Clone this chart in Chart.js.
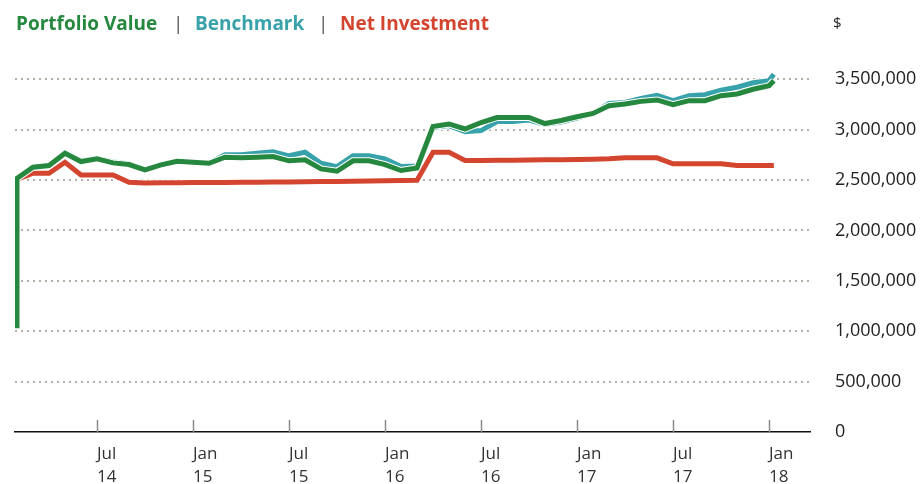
<!DOCTYPE html>
<html>
<head>
<meta charset="utf-8">
<script src="https://cdn.jsdelivr.net/npm/chart.js@4.4.0/dist/chart.umd.min.js"></script>
<style>
  body { margin: 0; background: #fff; font-family: 'Open Sans', sans-serif; }
  #wrap { position: relative; width: 923px; height: 484px; }
  #chart { position: absolute; left: 0; top: 0; }
  .lg { position: absolute; top: 10px; font-size: 19px; font-weight: 700; line-height: 26px; white-space: nowrap; }
  .sep { color: #555; font-weight: 400; }
  #unit { position: absolute; left: 833px; top: 11px; font-size: 15px; color: #222; line-height: 23px; }
</style>
</head>
<body>
<div id="wrap">
  <canvas id="chart" width="923" height="484"></canvas>
  <span class="lg" style="left:16px;color:#26883e">Portfolio Value</span>
  <span class="lg sep" style="left:173px">|</span>
  <span class="lg" style="left:195px;color:#38a2aa">Benchmark</span>
  <span class="lg sep" style="left:318px">|</span>
  <span class="lg" style="left:340px;color:#d4452f">Net Investment</span>
  <span id="unit">$</span>
</div>
<script>
// months counted from Jan 2014 (0 = Jan 1, 2014)
const months = [1, 2, 3, 4, 5, 6, 7, 8, 9, 10, 11, 12, 13, 14, 15, 16, 17, 18, 19, 20, 21, 22, 23, 24,
  25, 26, 27, 28, 29, 30, 31, 32, 33, 34, 35, 36, 37, 38, 39, 40, 41, 42, 43, 44, 45, 46, 47, 48, 48.3];

const portfolioStart = 1030000;
const portfolio = [2515000, 2627000, 2643000, 2765000, 2683000, 2710000, 2670000, 2653000, 2600000, 2650000,
  2686000, 2676000, 2666000, 2726000, 2720000, 2726000, 2732000, 2690000, 2700000, 2610000,
  2587000, 2690000, 2690000, 2653000, 2594000, 2620000, 3030000, 3056000, 3006000, 3070000,
  3120000, 3120000, 3120000, 3060000, 3090000, 3128000, 3160000, 3237000, 3254000, 3280000,
  3294000, 3247000, 3287000, 3287000, 3336000, 3353000, 3400000, 3435000, 3485000];

const benchmark = [2515000, 2635000, 2645000, 2770000, 2690000, 2715000, 2680000, 2660000, 2605000, 2652000,
  2688000, 2678000, 2668000, 2750000, 2750000, 2765000, 2780000, 2740000, 2776000, 2666000,
  2633000, 2740000, 2740000, 2710000, 2633000, 2640000, 3020000, 3040000, 2980000, 2990000,
  3080000, 3080000, 3095000, 3050000, 3075000, 3115000, 3160000, 3260000, 3270000, 3310000,
  3340000, 3287000, 3336000, 3346000, 3390000, 3420000, 3465000, 3485000, 3550000];

const netInvestment = [2505000, 2567000, 2567000, 2676000, 2550000, 2550000, 2550000, 2478000, 2470000, 2472000,
  2473000, 2474000, 2475000, 2476000, 2477000, 2478000, 2479000, 2480000, 2482000, 2484000,
  2486000, 2488000, 2490000, 2492000, 2495000, 2497000, 2775000, 2775000, 2693000, 2694000,
  2695000, 2696000, 2698000, 2700000, 2702000, 2704000, 2706000, 2710000, 2720000, 2720000,
  2720000, 2660000, 2660000, 2660000, 2660000, 2643000, 2643000, 2643000, 2643000];

const tickMonths = [6, 12, 18, 24, 30, 36, 42, 48];
const tickLabels = [['Jul', '14'], ['Jan', '15'], ['Jul', '15'], ['Jan', '16'],
  ['Jul', '16'], ['Jan', '17'], ['Jul', '17'], ['Jan', '18']];
const yTicks = [0, 500000, 1000000, 1500000, 2000000, 2500000, 3000000, 3500000];

const toPoints = (vals) => vals.map((v, i) => ({ x: months[i], y: v }));
const portfolioPts = [{ x: months[0], y: portfolioStart }].concat(toPoints(portfolio));

function line(data, color, width, order) {
  return {
    data: data,
    borderColor: color,
    borderWidth: width,
    pointRadius: 0,
    tension: 0,
    fill: false,
    borderJoinStyle: 'miter',
    order: order
  };
}

const xTickMarks = {
  id: 'xTickMarks',
  beforeDatasetsDraw(chart) {
    const { ctx, scales: { x }, chartArea } = chart;
    ctx.save();
    ctx.strokeStyle = '#888';
    ctx.lineWidth = 1.5;
    tickMonths.forEach(m => {
      const px = Math.round(x.getPixelForValue(m)) + 0.5;
      ctx.beginPath();
      ctx.moveTo(px, chartArea.bottom - 12);
      ctx.lineTo(px, chartArea.bottom);
      ctx.stroke();
    });
    ctx.restore();
  }
};

new Chart(document.getElementById('chart'), {
  type: 'line',
  data: {
    datasets: [
      line(toPoints(netInvestment), '#ffffff', 7, 6),
      line(toPoints(netInvestment), '#d4452f', 5, 5),
      line(toPoints(benchmark), '#ffffff', 7, 4),
      line(toPoints(benchmark), '#38a2aa', 5, 3),
      line(portfolioPts, '#ffffff', 7, 2),
      line(portfolioPts, '#26883e', 5, 1)
    ]
  },
  options: {
    responsive: false,
    animation: false,
    layout: { padding: { left: 15, top: 54, right: 0, bottom: 0 } },
    plugins: { legend: { display: false }, tooltip: { enabled: false } },
    scales: {
      x: {
        type: 'linear',
        min: 0.875,
        max: 50.56,
        afterBuildTicks: (scale) => { scale.ticks = tickMonths.map(v => ({ value: v })); },
        afterFit: (scale) => { scale.height = 52; },
        grid: { display: false, drawTicks: false },
        border: { display: true, color: '#111', width: 1.5 },
        ticks: {
          autoSkip: false,
          maxRotation: 0,
          align: 'start',
          padding: 10,
          color: '#333',
          font: { family: 'Open Sans', size: 17, lineHeight: 1.38 },
          callback: (v) => tickLabels[tickMonths.indexOf(v)]
        }
      },
      y: {
        position: 'right',
        min: 0,
        max: 3750000,
        afterBuildTicks: (scale) => { scale.ticks = yTicks.map(v => ({ value: v })); },
        afterFit: (scale) => { scale.width = 113; },
        grid: {
          drawTicks: false,
          lineWidth: 2,
          color: (c) => (c.tick && c.tick.value === 0) ? 'rgba(0,0,0,0)' : '#b3b0a6'
        },
        border: { display: false, dash: [2, 4] },
        ticks: {
          autoSkip: false,
          padding: 25,
          color: '#222',
          font: { family: 'Open Sans', size: 18 },
          callback: (v) => v.toLocaleString('en-US')
        }
      }
    }
  },
  plugins: [xTickMarks]
});
</script>
</body>
</html>
